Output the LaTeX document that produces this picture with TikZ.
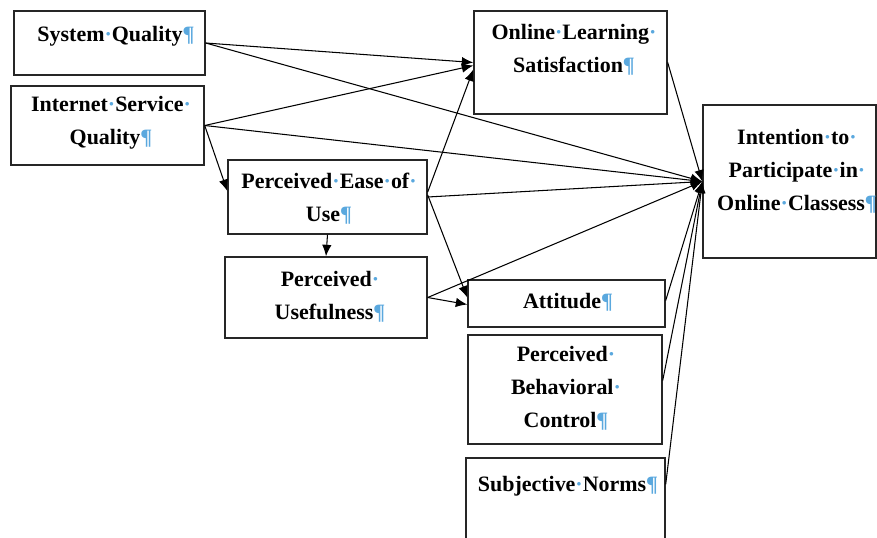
\documentclass[tikz,border=0pt]{standalone}
\usepackage{fontspec}
\setmainfont{Liberation Serif}
\usetikzlibrary{arrows.meta,fit,calc}
\definecolor{markblue}{RGB}{90,168,222}
\newcommand\wsp{\textcolor{markblue}{·}}
\newcommand\pilc{\textcolor{markblue}{¶}}
\begin{document}
\begin{tikzpicture}[x=0.02cm,y=-0.02cm,
  box/.style={draw=black!85, line width=0.8pt, inner sep=0pt, fit={#1}},
  txt/.style={font=\fontsize{12.5}{18.7}\selectfont\bfseries, align=center, inner sep=0pt},
  arr/.style={-{Latex[length=2.3mm,width=1.9mm]}, line width=0.6pt, black}
]
\useasboundingbox (0,0) rectangle (877,538);
% boxes
\node[box={(14,11) (205,75)}] (sq) {};
\node[box={(11,86) (204,165)}] (isq) {};
\node[box={(474,11) (667,114)}] (ols) {};
\node[box={(703,105) (876,258)}] (int) {};
\node[box={(228,160) (427,234)}] (peou) {};
\node[box={(225,257) (427,338)}] (pu) {};
\node[box={(468,280) (665,327)}] (att) {};
\node[box={(468,335) (662,444)}] (pbc) {};
\node[box={(466,458) (665,560)}] (sn) {};
% texts
\node[txt] (tsq) at (116,36) {System\wsp Quality\pilc};
\node[txt] (tisq) at (111,123) {Internet\wsp Service\wsp\\Quality\pilc};
\node[txt] (tols) at (574,50) {Online\wsp Learning\wsp\\Satisfaction\pilc};
\node[txt] (tint) at (797,171) {Intention\wsp to\wsp\\Participate\wsp in\wsp\\Online\wsp Classess\pilc};
\node[txt] (tpeou) at (329,199) {Perceived\wsp Ease\wsp of\wsp\\Use\pilc};
\node[txt] (tpu) at (330,297) {Perceived\wsp\\Usefulness\pilc};
\node[txt] (tatt) at (568,302) {Attitude\pilc};
\node[txt] (tpbc) at (566,388) {Perceived\wsp\\Behavioral\wsp\\Control\pilc};
\node[txt] (tsn) at (568,486) {Subjective\wsp Norms\pilc};
% connectors
\draw[arr] (sq.east) -- (ols.west);
\draw[arr] (sq.east) -- (int.west);
\draw[arr] (isq.east) -- ($(ols.west)+(0,3)$);
\draw[arr] (isq.east) -- (int.west);
\draw[arr] (isq.east) -- ($(peou.west)+(0,-6)$);
\draw[arr] ($(peou.east)+(0,-5)$) -- ($(ols.west)+(0,7)$);
\draw[arr] (peou.east) -- (int.west);
\draw[arr] ($(peou.east)+(0,-2)$) -- ($(att.west)+(0,-6)$);
\draw[arr] (peou.south) -- (pu.north);
\draw[arr] (pu.east) -- ($(att.west)+(0,1)$);
\draw[arr] (pu.east) -- (int.west);
\draw[arr] (ols.east) -- (int.west);
\draw[arr] ($(att.east)+(0,-3)$) -- (int.west);
\draw[arr] ($(pbc.east)+(0,-9)$) -- (int.west);
\draw[arr] ($(sn.north east)+(0,27)$) -- (int.west);
\end{tikzpicture}
\end{document}
